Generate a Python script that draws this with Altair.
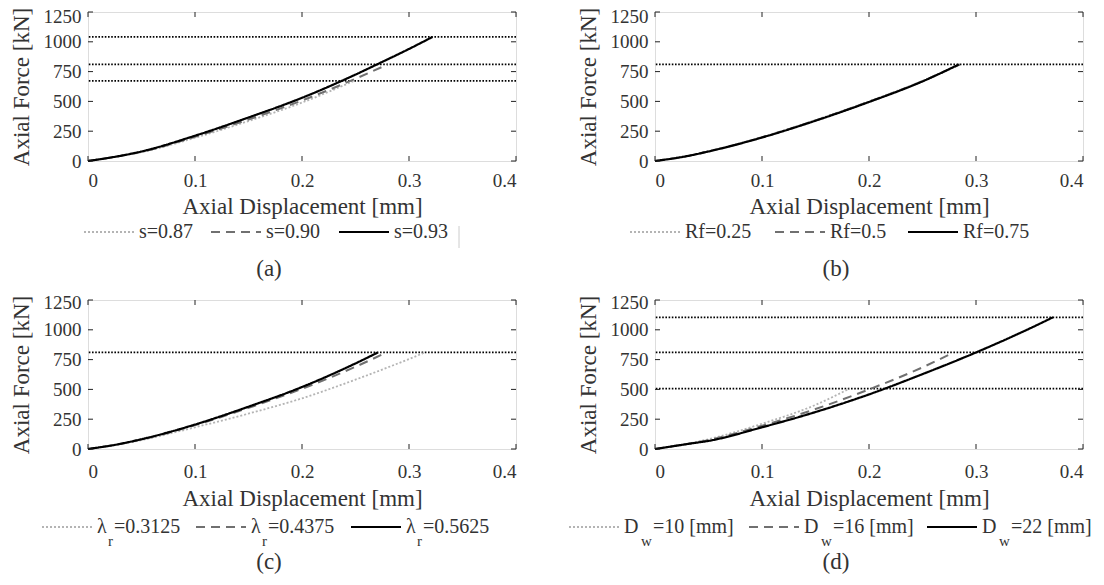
import altair as alt
import pandas as pd

FONT = "Liberation Serif"
TXT = "#333333"
W, H = 428, 149

# ---------------- data ----------------
x_ticks = [0, 0.1, 0.2, 0.3, 0.4]
y_ticks = [0, 250, 500, 750, 1000, 1250]

# (a) s
a_labels = ["s=0.87", "s=0.90", "s=0.93"]
a_d_087 = [0, 0.033, 0.05, 0.1, 0.15, 0.2, 0.249]
a_F_087 = [0, 46, 74, 195, 335, 490, 674]
a_d_090 = [0, 0.033, 0.05, 0.1, 0.15, 0.2, 0.25, 0.28]
a_F_090 = [0, 47, 77, 203, 348, 508, 690, 810]
a_d_093 = [0, 0.033, 0.05, 0.1, 0.15, 0.2, 0.25, 0.27, 0.3, 0.322]
a_F_093 = [0, 48, 80, 212, 365, 530, 725, 810, 940, 1041]
a_limits = [672, 810, 1041]

# (b) Rf
b_labels = ["Rf=0.25", "Rf=0.5", "Rf=0.75"]
b_d_025 = [0, 0.03, 0.05, 0.1, 0.15, 0.2, 0.25, 0.285]
b_F_025 = [0, 43, 82, 201, 343, 500, 672, 810]
b_d_050 = [0, 0.03, 0.05, 0.1, 0.15, 0.2, 0.25, 0.285]
b_F_050 = [0, 42, 81, 199, 341, 498, 670, 810]
b_d_075 = [0, 0.03, 0.05, 0.1, 0.15, 0.2, 0.25, 0.284]
b_F_075 = [0, 41, 80, 197, 338, 495, 668, 810]
b_limits = [810]

# (c) lambda_r
c_main, c_sub = "λ", "r"
c_values = ["=0.3125", "=0.4375", "=0.5625"]
c_d_1 = [0, 0.03, 0.05, 0.1, 0.15, 0.2, 0.25, 0.3, 0.315]
c_F_1 = [0, 40, 75, 182, 297, 425, 582, 755, 810]
c_d_2 = [0, 0.03, 0.05, 0.1, 0.15, 0.2, 0.25, 0.279]
c_F_2 = [0, 42, 80, 200, 345, 505, 690, 810]
c_d_3 = [0, 0.03, 0.05, 0.1, 0.15, 0.2, 0.25, 0.271]
c_F_3 = [0, 43, 82, 205, 355, 520, 718, 810]
c_limits = [810]

# (d) D_w
d_main, d_sub = "D", "w"
d_values = ["=10 [mm]", "=16 [mm]", "=22 [mm]"]
d_d_10 = [0, 0.035, 0.05, 0.1, 0.15, 0.182]
d_F_10 = [0, 52, 82, 212, 370, 508]
d_d_16 = [0, 0.035, 0.05, 0.1, 0.15, 0.2, 0.25, 0.279]
d_F_16 = [0, 50, 75, 195, 335, 500, 685, 810]
d_d_22 = [0, 0.035, 0.05, 0.1, 0.15, 0.2, 0.25, 0.3, 0.35, 0.372]
d_F_22 = [0, 48, 68, 182, 310, 458, 628, 810, 1010, 1105]
d_limits = [507, 810, 1105]

captions = ["(a)", "(b)", "(c)", "(d)"]

# ---------------- styles ----------------
STYLES = [
    dict(color="#b4b4b4", strokeDash=[2, 2], strokeWidth=1.8),
    dict(color="#707070", strokeDash=[9, 6], strokeWidth=2.0),
    dict(color="#000000", strokeDash=[1, 0], strokeWidth=2.2),
]

xs = alt.Scale(domain=[0, 0.4], nice=False, zero=False)
ys = alt.Scale(domain=[0, 1250], nice=False, zero=False)

ROW1 = dict(lab_pad=10, title_y=52, leg=77, cap=115, top_off=4)
ROW2 = dict(lab_pad=13.5, title_y=56, leg=84, cap=120, top_off=2)


def encs(r):
    X = alt.X("d:Q", scale=xs, axis=alt.Axis(
        values=x_ticks, format="~g", title="Axial Displacement [mm]",
        ticks=False, tickSize=0, domain=False, grid=False,
        labelFont=FONT, labelFontSize=19, labelColor=TXT,
        labelPadding=r["lab_pad"],
        titleFont=FONT, titleFontSize=23, titleColor=TXT,
        titleFontWeight="normal", titleY=r["title_y"],
        titleBaseline="alphabetic"))
    Y = alt.Y("F:Q", scale=ys, axis=alt.Axis(
        values=y_ticks, format="d", title="Axial Force [kN]",
        ticks=False, tickSize=0, domain=False, grid=False,
        labelFont=FONT, labelFontSize=19, labelColor=TXT, labelPadding=7,
        labelBaseline="middle",
        labelOffset={"condition": {"test": "datum.value == 1250",
                                   "value": r["top_off"]}, "value": 0},
        titleFont=FONT, titleFontSize=23, titleColor=TXT,
        titleFontWeight="normal",
        titleX=-60, titleY=H / 2, titleAngle=270, titleBaseline="alphabetic",
        titleAlign="center"))
    return X, Y


ONE = pd.DataFrame({"k": [0]})


def panel(series, limits, starts, parts_list, caption, r, bar=None):
    X, Y = encs(r)
    layers = []
    layers.append(alt.Chart(pd.DataFrame({"F": limits})).mark_rule(
        color="#000000", strokeWidth=1.8, strokeDash=[1.6, 1.6]).encode(y=Y))
    for (dd, FF), st in zip(series, STYLES):
        layers.append(alt.Chart(pd.DataFrame({"d": dd, "F": FF})).mark_line(
            interpolate="monotone", **st).encode(x=X, y=Y))
    tx = pd.DataFrame({"d": x_ticks})
    ty = pd.DataFrame({"F": y_ticks})
    tick_style = dict(color="#222222", strokeWidth=1)
    layers.append(alt.Chart(tx).mark_rule(**tick_style).encode(
        x=X, y=alt.value(H), y2=alt.value(H - 5)))
    layers.append(alt.Chart(tx).mark_rule(**tick_style).encode(
        x=X, y=alt.value(0), y2=alt.value(5)))
    layers.append(alt.Chart(ty).mark_rule(**tick_style).encode(
        y=Y, x=alt.value(0), x2=alt.value(5)))
    layers.append(alt.Chart(ty).mark_rule(**tick_style).encode(
        y=Y, x=alt.value(W - 5), x2=alt.value(W)))
    ys_txt = H + r["leg"]
    ys_sym = ys_txt - 6
    for s0, parts, st in zip(starts, parts_list, STYLES):
        layers.append(alt.Chart(ONE).mark_rule(**st).encode(
            x=alt.value(s0), x2=alt.value(s0 + 50), y=alt.value(ys_sym)))
        for dx, txt, fs, dy in parts:
            layers.append(alt.Chart(ONE).mark_text(
                font=FONT, fontSize=fs, color=TXT, align="left",
                baseline="alphabetic").encode(
                x=alt.value(s0 + 55 + dx), y=alt.value(ys_txt + dy),
                text=alt.value(txt)))
    if bar is not None:
        layers.append(alt.Chart(ONE).mark_rule(color="#cccccc", strokeWidth=1).encode(
            x=alt.value(bar), y=alt.value(ys_txt - 12), y2=alt.value(ys_txt + 10)))
    layers.append(alt.Chart(ONE).mark_text(
        font=FONT, fontSize=23, color=TXT, align="center",
        baseline="alphabetic").encode(
        x=alt.value(181), y=alt.value(H + r["cap"]), text=alt.value(caption)))
    return alt.layer(*layers).properties(width=W, height=H)


pa = panel([(a_d_087, a_F_087), (a_d_090, a_F_090), (a_d_093, a_F_093)],
           a_limits, [-4, 123, 251],
           [[(0, t, 20, 0)] for t in a_labels], captions[0], ROW1, bar=371)
pb = panel([(b_d_025, b_F_025), (b_d_050, b_F_050), (b_d_075, b_F_075)],
           b_limits, [-25, 120, 253],
           [[(0, t, 20, 0)] for t in b_labels], captions[1], ROW1)
pc = panel([(c_d_1, c_F_1), (c_d_2, c_F_2), (c_d_3, c_F_3)],
           c_limits, [-46, 108, 263],
           [[(0, c_main, 20, 0), (11, c_sub, 15, 13), (17, v, 20, 0)] for v in c_values],
           captions[2], ROW2)
pd_ = panel([(d_d_10, d_F_10), (d_d_16, d_F_16), (d_d_22, d_F_22)],
            d_limits, [-86, 94, 272],
            [[(0, d_main, 20, 0), (17, d_sub, 15, 13), (29, v, 20, 0)] for v in d_values],
            captions[3], ROW2)

chart = alt.concat(pa, pb, pc, pd_, columns=2,
                   spacing={"row": 139, "column": 139}, bounds="flush").properties(
    padding={"left": 1, "top": -2, "right": 0, "bottom": 0}
).configure_view(stroke="#222222", strokeWidth=1).configure(background="white")

chart.save("out.html", embed_options={"renderer": "svg", "actions": False})
